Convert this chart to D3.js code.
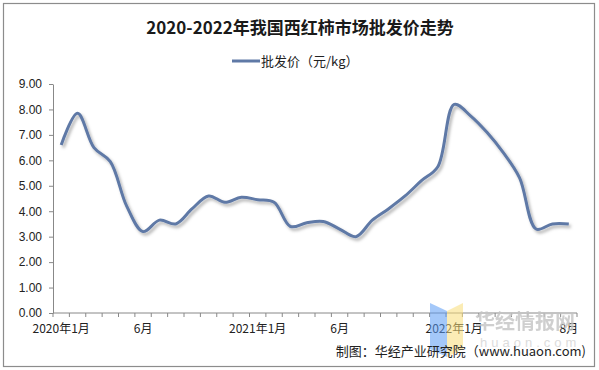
<!DOCTYPE html>
<html lang="zh">
<head>
<meta charset="UTF-8">
<title>2020-2022年我国西红柿市场批发价走势</title>
<script src="https://d3js.org/d3.v7.min.js"></script>
<style>
  body { margin: 0; background: #fff; }
  svg { display: block; }
</style>
</head>
<body>
<svg id="chart"></svg>
<script>
    const width = 599;
    const height = 370;

    // monthly wholesale price, 2020-01 .. 2022-08
    const months = d3.range(32).map(i => {
        const y = 2020 + Math.floor(i / 12);
        return y + "-" + (i % 12 + 1);
    });
    const prices = [6.6, 7.85, 6.5, 5.95, 4.2, 3.2, 3.65, 3.5, 4.1, 4.6, 4.35, 4.55,
                    4.45, 4.35, 3.4, 3.55, 3.6, 3.3, 3.0, 3.65, 4.1, 4.6, 5.2, 5.75,
                    8.2, 7.75, 7.1, 6.3, 5.3, 3.3, 3.5, 3.5];
    const labelIdx = [0, 5, 12, 17, 24, 31];
    const labelText = ["2020年1月", "6月", "2021年1月", "6月", "2022年1月", "8月"];
    const yTicks = d3.range(0, 10);

    const svg = d3.select("#chart").attr("width", width).attr("height", height);

    const margin = {left: 53, right: 22, top: 84, bottom: 57};

    // frame
    svg.append("rect")
        .attr("x", 3.5).attr("y", 3.5)
        .attr("width", 591).attr("height", 363)
        .attr("fill", "#fff").attr("stroke", "#8c8c8c").attr("stroke-width", 1.2);

    const x = d3.scaleBand().domain(months).range([margin.left, width - margin.right]);
    const y = d3.scaleLinear().domain([0, 9]).range([height - margin.bottom, margin.top]);

    // title
    svg.append("text")
        .attr("x", 300).attr("y", 34)
        .attr("text-anchor", "middle")
        .style("font-family", "'Noto Sans CJK SC', sans-serif")
        .style("font-weight", "bold")
        .style("font-size", "17px")
        .attr("fill", "#1a1a1a")
        .text("2020-2022年我国西红柿市场批发价走势");

    // legend
    svg.append("line")
        .attr("x1", 232).attr("x2", 260).attr("y1", 61).attr("y2", 61)
        .attr("stroke", "#5f79a6").attr("stroke-width", 3);
    svg.append("text")
        .attr("x", 261).attr("y", 66)
        .style("font-family", "'Noto Sans CJK SC', sans-serif")
        .style("font-size", "13px")
        .attr("fill", "#222")
        .text("批发价（元/kg）");

    // y axis
    const yAxis = svg.append("g")
        .attr("transform", `translate(${margin.left},0)`)
        .call(d3.axisLeft(y).tickValues(yTicks).tickFormat(d3.format(".2f")).tickSize(4).tickSizeOuter(0));
    yAxis.select(".domain").attr("stroke", "#888");
    yAxis.selectAll(".tick line").attr("stroke", "#888");
    yAxis.selectAll("text")
        .attr("x", -11)
        .style("font-family", "'Liberation Sans', Arial, sans-serif")
        .style("font-size", "12px")
        .attr("fill", "#222");

    // x axis: tick marks on category boundaries
    const xBase = y(0);
    svg.append("line")
        .attr("x1", margin.left).attr("x2", width - margin.right)
        .attr("y1", xBase).attr("y2", xBase)
        .attr("stroke", "#888");
    svg.append("g").selectAll("line")
        .data(d3.range(months.length + 1))
        .join("line")
        .attr("x1", i => margin.left + i * x.step())
        .attr("x2", i => margin.left + i * x.step())
        .attr("y1", xBase).attr("y2", xBase + 4)
        .attr("stroke", "#888");
    svg.append("g").selectAll("text")
        .data(labelIdx)
        .join("text")
        .attr("x", i => x(months[i]) + x.bandwidth() / 2)
        .attr("y", xBase + 20)
        .attr("text-anchor", "middle")
        .style("font-family", "'Noto Sans CJK SC', sans-serif")
        .style("font-size", "12px")
        .attr("fill", "#222")
        .text((d, k) => labelText[k]);

    // shadow for the line
    const defs = svg.append("defs");
    const f = defs.append("filter").attr("id", "shadow")
        .attr("x", "-5%").attr("y", "-5%").attr("width", "110%").attr("height", "120%");
    f.append("feDropShadow")
        .attr("dx", 2).attr("dy", 2.5).attr("stdDeviation", 1.6)
        .attr("flood-color", "#000").attr("flood-opacity", 0.3);

    const line = d3.line()
        .x((d, i) => x(months[i]) + x.bandwidth() / 2)
        .y(d => y(d))
        .curve(d3.curveCatmullRom.alpha(0.5));

    svg.append("path")
        .datum(prices)
        .attr("d", line)
        .attr("fill", "none")
        .attr("stroke", "#5f79a6")
        .attr("stroke-width", 3)
        .attr("stroke-linejoin", "round")
        .attr("filter", "url(#shadow)");

    // watermark
    const wm = svg.append("g").attr("opacity", 0.55);
    wm.append("path").attr("d", "M430,303 L447,311 L447,357 L430,349 Z").attr("fill", "#5b9cf5");
    wm.append("path").attr("d", "M447,311 L463,303 L463,349 L447,357 Z").attr("fill", "#f9dd79");
    svg.append("text")
        .attr("x", 475).attr("y", 329)
        .style("font-family", "'Noto Sans CJK SC', sans-serif")
        .style("font-weight", "bold")
        .style("font-size", "20px")
        .attr("fill", "#c4c4c4")
        .attr("opacity", 0.8)
        .text("华经情报网");
    svg.append("text")
        .attr("x", 480).attr("y", 347)
        .style("font-family", "'Liberation Sans', Arial, sans-serif")
        .style("font-size", "13px")
        .style("letter-spacing", "4px")
        .attr("fill", "#dcdcdc")
        .text("huaon.com");

    // source
    svg.append("text")
        .attr("x", 586).attr("y", 356)
        .attr("text-anchor", "end")
        .style("font-family", "'Noto Sans CJK SC', sans-serif")
        .style("font-size", "13px")
        .attr("fill", "#222")
        .text("制图：华经产业研究院（www.huaon.com)");
</script>
</body>
</html>
